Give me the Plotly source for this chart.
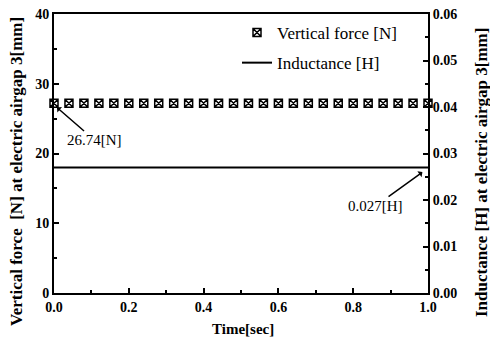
import plotly.graph_objects as go

# Data
time_force = [round(0.04 * i, 2) for i in range(26)]
vertical_force = [27.2] * 26
time_ind = [0.0, 1.0]
inductance = [0.027, 0.027]

x_ticks = [0.0, 0.2, 0.4, 0.6, 0.8, 1.0]
y_ticks = [0, 10, 20, 30, 40]
y2_ticks = [0.00, 0.01, 0.02, 0.03, 0.04, 0.05, 0.06]

SERIF = "Liberation Serif, Times New Roman, serif"

fig = go.Figure()
fig.add_trace(go.Scatter(
    x=time_force, y=vertical_force, mode="markers", name="Vertical force [N]",
    marker=dict(symbol="square-x-open", size=8, color="black", line=dict(width=1.5, color="black")),
    yaxis="y", cliponaxis=False, legendgroup="a",
))
fig.add_trace(go.Scatter(
    x=time_ind, y=inductance, mode="lines", name="Inductance [H]",
    line=dict(color="black", width=2), yaxis="y2", legendgroup="b",
))

axis_common = dict(
    showline=True, linecolor="black", linewidth=2,
    ticks="inside", ticklen=5, tickwidth=1.5, tickcolor="black",
    showgrid=False, zeroline=False, automargin=False,
    tickfont=dict(family=SERIF, size=14, color="black", weight="bold"),
)

W, H = 490, 347
L, R, T, B = 54, 62, 14, 54
pw, ph = W - L - R, H - T - B
def px(xp):
    return (xp - L) / pw
def py(yp):
    return (H - B - yp) / ph

fig.update_layout(
    width=W, height=H,
    margin=dict(l=L, r=R, t=T, b=B),
    paper_bgcolor="white", plot_bgcolor="white",
    font=dict(family=SERIF, color="black"),
    xaxis=dict(
        range=[0, 1], tickvals=x_ticks, tickformat=".1f", mirror=True,
        minor=dict(ticks="inside", ticklen=3, dtick=0.1, tickcolor="black"),
        **axis_common,
    ),
    yaxis=dict(
        range=[0, 40], tickvals=y_ticks,
        minor=dict(ticks="inside", ticklen=3, dtick=5, tickcolor="black"),
        **axis_common,
    ),
    yaxis2=dict(
        range=[0, 0.06], tickvals=y2_ticks, tickformat=".2f",
        overlaying="y", side="right",
        minor=dict(ticks="inside", ticklen=3, dtick=0.005, tickcolor="black"),
        **axis_common,
    ),
    legend=dict(
        x=px(237), y=py(15), xanchor="left", yanchor="top",
        bgcolor="rgba(0,0,0,0)", borderwidth=0,
        font=dict(family=SERIF, size=17, color="black"),
        itemwidth=30, tracegroupgap=5,
    ),
    showlegend=True,
)

title_font = dict(family=SERIF, size=15, color="black", weight="bold")
vtitle_font = dict(family=SERIF, size=17, color="black", weight="bold")
fig.add_annotation(x=px(16), y=py(172), xref="paper", yref="paper",
                   xanchor="center", yanchor="middle",
                   text="Vertical force  [N] at electric airgap 3[mm]",
                   showarrow=False, textangle=-90, font=vtitle_font)
fig.add_annotation(x=px(481), y=py(172), xref="paper", yref="paper",
                   xanchor="center", yanchor="middle",
                   text="Inductance [H] at electric airgap 3[mm]",
                   showarrow=False, textangle=-90, font=vtitle_font)
fig.add_annotation(x=px(243), y=py(329), xref="paper", yref="paper",
                   xanchor="center", yanchor="middle",
                   text="Time[sec]", showarrow=False, font=title_font)

fig.add_annotation(
    x=0.008, y=26.6, xref="x", yref="y", text="26.74[N]",
    showarrow=True, arrowhead=1, arrowsize=0.8, arrowwidth=1.5, arrowcolor="black",
    ax=38, ay=33, font=dict(family=SERIF, size=15, color="black"),
)
fig.add_annotation(
    x=0.985, y=0.026, xref="x", yref="y2", text="0.027[H]",
    showarrow=True, arrowhead=1, arrowsize=0.8, arrowwidth=1.5, arrowcolor="black",
    ax=-47, ay=34, font=dict(family=SERIF, size=15, color="black"),
)

fig.write_html("out.html", config={"displayModeBar": False},
               post_script="document.body.style.margin='0';")
